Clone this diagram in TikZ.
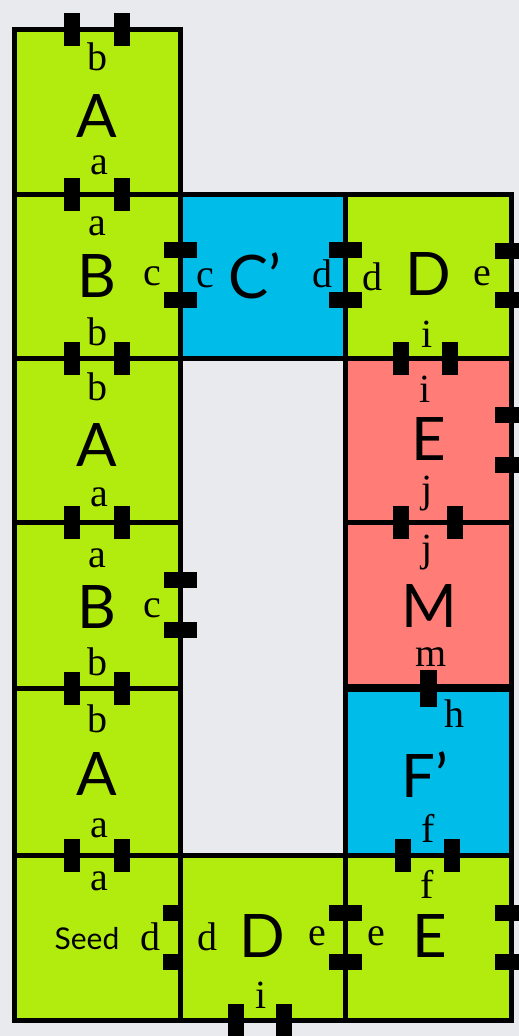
\documentclass[tikz,border=0pt]{standalone}
\usepackage{fontspec}
\setmainfont{Liberation Serif}
\newfontfamily\gillf{Lato}
\definecolor{tgreen}{RGB}{178,235,14}
\definecolor{tcyan}{RGB}{0,188,232}
\definecolor{tsalmon}{RGB}{255,125,118}
\definecolor{bgc}{RGB}{233,234,238}
\newcommand{\pinv}[2]{\fill (#1-8.25,#2-16.5) rectangle (#1+8.25,#2+16.5);}
\newcommand{\pinh}[2]{\fill (#1-16.5,#2-8) rectangle (#1+16.5,#2+8);}
\tikzset{
  tile/.style={draw=black, line width=5pt, inner sep=0pt, outer sep=0pt, minimum width=166pt, minimum height=165pt},
  lbl/.style={font=\fontsize{40}{40}\selectfont, anchor=base, inner sep=0pt},
  big/.style={font=\gillf\fontsize{60}{60}\selectfont, anchor=base, inner sep=0pt},
  seedl/.style={font=\gillf\fontsize{30}{30}\selectfont, anchor=base, inner sep=0pt}
}
\begin{document}
\begin{tikzpicture}[x=1pt,y=-1pt]
\fill[bgc] (0,0) rectangle (519,1036);
\useasboundingbox (0,0) rectangle (519,1036);
% tiles
\node[tile, fill=tgreen] (t00) at (97,111.5) {};
\node[tile, fill=tgreen, minimum height=164pt] (t10) at (97,276) {};
\node[tile, fill=tcyan, minimum width=165pt, minimum height=164pt] (t11) at (262.5,276) {};
\node[tile, fill=tgreen, minimum height=164pt] (t12) at (428,276) {};
\node[tile, fill=tgreen, minimum height=164pt] (t20) at (97,440) {};
\node[tile, fill=tsalmon, minimum height=164pt] (t22) at (428,440) {};
\node[tile, fill=tgreen, minimum height=166pt] (t30) at (97,605) {};
\node[tile, fill=tsalmon, minimum height=164pt] (t32) at (428,604) {};
\node[tile, fill=tgreen, minimum height=167pt] (t40) at (97,771.5) {};
\node[tile, fill=tcyan, minimum height=166pt] (t42) at (428,772) {};
\node[tile, fill=tgreen] (t50) at (97,937.5) {};
\node[tile, fill=tgreen, minimum width=165pt] (t51) at (262.5,937.5) {};
\node[tile, fill=tgreen] (t52) at (428,937.5) {};
% connector pins
\pinv{72}{29} \pinv{122}{29}
\pinv{72}{194} \pinv{122}{194}
\pinh{180}{250} \pinh{180}{300}
\pinh{345}{250} \pinh{345}{300}
\pinh{511}{251} \pinh{511}{300}
\pinv{72}{358} \pinv{122}{358}
\pinv{401}{358} \pinv{450}{358}
\pinh{511}{415} \pinh{511}{465}
\pinv{72}{522} \pinv{122}{522}
\pinv{401}{522} \pinv{455}{522}
\pinh{180}{580} \pinh{180}{630}
\pinv{72}{688} \pinv{122}{688}
\fill (419.5,670) rectangle (436.5,707);
\pinv{72}{855} \pinv{122}{855}
\pinv{403}{855} \pinv{452}{855}
\fill (163,905) rectangle (180,921);
\fill (163,954) rectangle (180,970);
\pinh{345}{913} \pinh{345}{962}
\pinh{511}{913} \pinh{511}{962}
\pinv{236}{1020} \pinv{284}{1020}
% labels row 0
\node[lbl] (l00b) at (97,70) {b};
\node[big] (l00) at (97,137) {A};
\node[lbl] (l00a) at (99,174) {a};
% row 1
\node[lbl] (l10a) at (97,235) {a};
\node[big] (l10) at (97,297) {B};
\node[lbl] (l10c) at (152,285) {c};
\node[lbl] (l10b) at (97,345) {b};
\node[lbl] (l11c) at (205,287) {c};
\node[big] (l11) at (255,298) {C’};
\node[lbl] (l11d) at (322,287) {d};
\node[lbl] (l12d) at (372,290) {d};
\node[big] (l12) at (428,295) {D};
\node[lbl] (l12e) at (482,285) {e};
\node[lbl] (l12i) at (427,347) {i};
% row 2
\node[lbl] (l20b) at (97,400) {b};
\node[big] (l20) at (97,466) {A};
\node[lbl] (l20a) at (99,506) {a};
\node[lbl] (l22i) at (425,402) {i};
\node[big] (l22) at (429,460) {E};
\node[lbl] (l22j) at (427,502) {j};
% row 3
\node[lbl] (l30a) at (97,567) {a};
\node[big] (l30) at (97,628) {B};
\node[lbl] (l30c) at (152,617) {c};
\node[lbl] (l30b) at (97,675) {b};
\node[lbl] (l32j) at (427,561) {j};
\node[big] (l32) at (429,627) {M};
\node[lbl] (l32m) at (431,666) {m};
% row 4
\node[lbl] (l40b) at (97,732) {b};
\node[big] (l40) at (97,795) {A};
\node[lbl] (l40a) at (99,837) {a};
\node[lbl] (l42h) at (454,727) {h};
\node[big] (l42) at (425,797) {F’};
\node[lbl] (l42f) at (428,842) {f};
% row 5
\node[lbl] (l50a) at (99,890) {a};
\node[seedl] (l50) at (87,949) {Seed};
\node[lbl] (l50d) at (150,950) {d};
\node[lbl] (l51d) at (207,950) {d};
\node[big] (l51) at (262,957) {D};
\node[lbl] (l51e) at (317,945) {e};
\node[lbl] (l51i) at (261,1008) {i};
\node[lbl] (l52f) at (427,898) {f};
\node[lbl] (l52e) at (376,945) {e};
\node[big] (l52) at (430,957) {E};
\end{tikzpicture}
\end{document}
